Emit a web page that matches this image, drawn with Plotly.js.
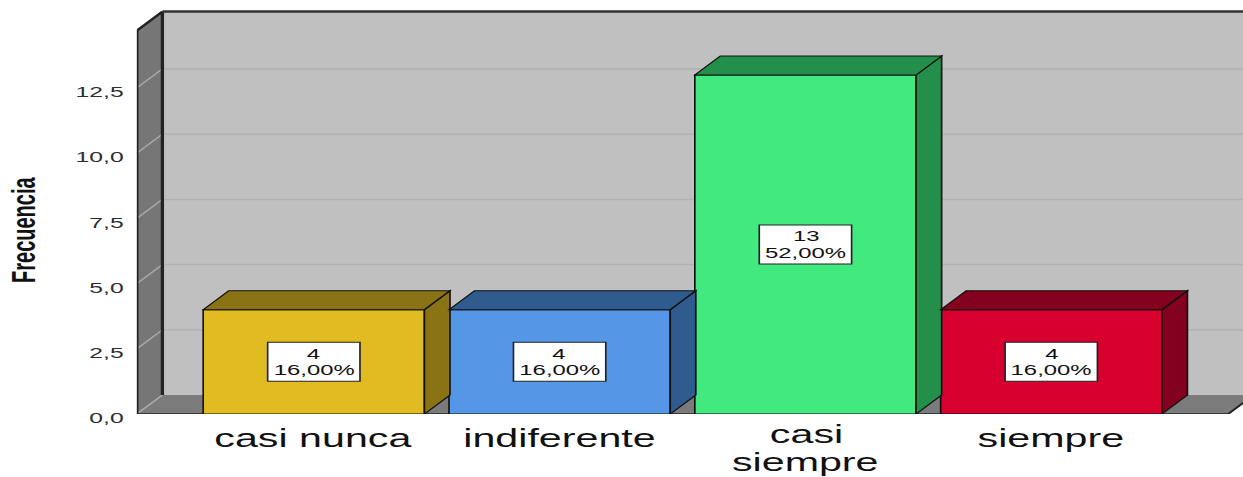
<!DOCTYPE html>
<html>
<head>
<meta charset="utf-8">
<script src="https://cdn.plot.ly/plotly-3.0.1.min.js"></script>
<style>
  html, body { margin: 0; padding: 0; background: #ffffff; overflow: hidden; }
  /* The chart is laid out on a narrower canvas and widened horizontally. */
  #chart { width: 754px; height: 477px; transform: scaleX(1.64854); transform-origin: 0 0; }
</style>
</head>
<body>
<div id="chart"></div>
<script>
// Frequency of answers per category
const categories = ['casi nunca', 'indiferente', 'casi siempre', 'siempre'];
const labelLines = [['casi nunca'], ['indiferente'], ['casi', 'siempre'], ['siempre']];
const frequencies = [4, 4, 13, 4];
const faceColors = ['#e0bb22', '#5596e6', '#41e97f', '#d7002f'];
const shadeColors = ['#8a7315', '#2f5b8e', '#248f4b', '#84001f'];
const yTicks = [0, 2.5, 5, 7.5, 10, 12.5];

// 3D box geometry (axis units)
const X_MIN = -0.72, X_MAX = 3.72, X_END = 3.78;
const BAR_W = 0.9;
const DX = 0.104, DY = 0.7285;   // depth offset
const WALL = 14.7;               // wall height
const Y_TOP = 15.567;

const total = frequencies.reduce((a, b) => a + b, 0);
const pctText = f => (f / total * 100).toFixed(2).replace('.', ',') + '%';
const idx = categories.map((c, i) => i);

const shapes = [];
const path = pts => 'M ' + pts.map(p => p[0] + ',' + p[1]).join(' L ') + ' Z';

// back wall, floor, left wall
shapes.push({type: 'path', layer: 'below', path: path([[X_MIN + DX, DY], [X_END + 1, DY], [X_END + 1, WALL + DY], [X_MIN + DX, WALL + DY]]),
  fillcolor: '#c0c0c0', line: {width: 0}});
shapes.push({type: 'path', layer: 'below', path: path([[X_MIN, 0], [X_MAX, 0], [X_MAX + DX, DY], [X_MIN + DX, DY]]),
  fillcolor: '#7b7b7b', line: {width: 0}});
shapes.push({type: 'path', layer: 'below', path: path([[X_MIN, 0], [X_MIN, WALL], [X_MIN + DX, WALL + DY], [X_MIN + DX, DY]]),
  fillcolor: '#767676', line: {width: 0}});

// grid lines on the back wall and the matching marks on the side wall
yTicks.forEach(v => {
  if (v > 0) {
    shapes.push({type: 'line', layer: 'below', x0: X_MIN + DX, x1: X_END + 1, y0: v + DY, y1: v + DY,
      line: {color: '#b2b2b2', width: 1.5}});
  }
  shapes.push({type: 'line', layer: 'below', x0: X_MIN, x1: X_MIN + DX, y0: v, y1: v + DY,
    line: {color: '#a8a8a8', width: 1.2}});
});

// wall edges
const edge = (x0, y0, x1, y1, w, c) => shapes.push({type: 'line', layer: 'below', x0, y0, x1, y1,
  line: {color: c || '#222222', width: w}});
edge(X_MIN, 0, X_MIN, WALL, 2);
edge(X_MIN + DX, DY, X_MIN + DX, WALL + DY, 2);
edge(X_MIN, WALL, X_MIN + DX, WALL + DY, 2);
edge(X_MIN + DX, WALL + DY, X_END + 1, WALL + DY, 2.5, '#333333');
edge(X_MIN, 0, X_MAX, 0, 1.5);
edge(X_MAX, 0, X_MAX + DX, DY, 1.5);

// bar top and side faces
idx.forEach(i => {
  const v = frequencies[i];
  const x0 = i - BAR_W / 2, x1 = i + BAR_W / 2;
  shapes.push({type: 'path', layer: 'above', path: path([[x1, 0], [x1 + DX, DY], [x1 + DX, v + DY], [x1, v]]),
    fillcolor: shadeColors[i], line: {color: '#111111', width: 1}});
  shapes.push({type: 'path', layer: 'above', path: path([[x0, v], [x1, v], [x1 + DX, v + DY], [x0 + DX, v + DY]]),
    fillcolor: shadeColors[i], line: {color: '#111111', width: 1}});
});

// value boxes
idx.forEach(i => {
  shapes.push({type: 'rect', layer: 'above', xref: 'x', yref: 'y',
    xsizemode: 'pixel', ysizemode: 'pixel', xanchor: i, yanchor: frequencies[i] / 2,
    x0: -28, x1: 28, y0: -19.5, y1: 19.5,
    fillcolor: '#ffffff', line: {color: '#222222', width: 1}});
});

const boxFont = {family: 'Liberation Sans, Arial, sans-serif', size: 14.5, color: '#111111'};
const catFont = {family: 'Liberation Sans, Arial, sans-serif', size: 25, color: '#111111'};
const annotations = [];
idx.forEach(i => {
  const mid = frequencies[i] / 2;
  annotations.push({x: i, y: mid, xref: 'x', yref: 'y', text: String(frequencies[i]), showarrow: false,
    borderpad: 0, borderwidth: 0, yshift: 8, font: boxFont});
  annotations.push({x: i, y: mid, xref: 'x', yref: 'y', text: pctText(frequencies[i]), showarrow: false,
    borderpad: 0, borderwidth: 0, yshift: -8.5, font: boxFont});
  // category names under the bars; a two-line name is set a little higher
  const lines = labelLines[i];
  const firstShift = lines.length > 1 ? -6 : -9.5;
  lines.forEach((line, k) => {
    annotations.push({x: i, y: 0, xref: 'x', yref: 'paper', yanchor: 'top', text: line, showarrow: false,
      borderpad: 0, borderwidth: 0, yshift: firstShift - 28 * k, font: catFont});
  });
});
annotations.push({x: 0, y: 0.452, xref: 'paper', yref: 'paper', xanchor: 'center', yanchor: 'middle',
  xshift: -68.5, text: 'Frecuencia', textangle: -90, showarrow: false,
  font: {family: 'Liberation Sans, Arial, sans-serif', size: 20, weight: 'bold', color: '#111111'}});

const trace = {
  type: 'bar', x: idx, y: frequencies, width: BAR_W,
  marker: {color: faceColors, line: {color: '#111111', width: 1}},
  hoverinfo: 'skip'
};

const layout = {
  width: 754, height: 477,
  margin: {l: 83, r: 0, t: 8, b: 63},
  paper_bgcolor: '#ffffff', plot_bgcolor: '#ffffff',
  separators: ',.',
  showlegend: false,
  xaxis: {range: [X_MIN, X_END], showticklabels: false, showgrid: false, zeroline: false, showline: false, ticks: ''},
  yaxis: {range: [0, Y_TOP], tickvals: yTicks, tickformat: '.1f', showgrid: false, zeroline: false, showline: false,
    ticks: 'outside', ticklen: 4, tickcolor: 'rgba(0,0,0,0)', ticklabelshift: 4,
    tickfont: {family: 'Liberation Sans, Arial, sans-serif', size: 15, color: '#2e2e2e'}},
  shapes, annotations
};

Plotly.newPlot('chart', [trace], layout, {staticPlot: true, displayModeBar: false});
</script>
</body>
</html>
